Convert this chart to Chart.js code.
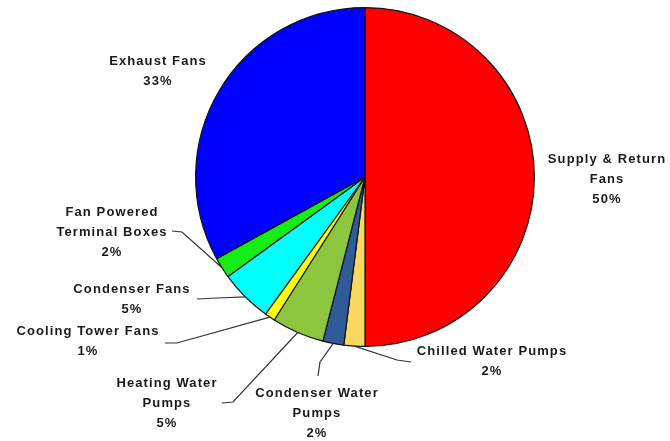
<!DOCTYPE html>
<html>
	<head>
		<title>Fan and Pump Energy Breakdown</title>
		<meta http-equiv="Content-Type" content="text/html; charset=UTF-8" />
		<script src="https://cdn.jsdelivr.net/npm/chart.js@4.4.1/dist/chart.umd.min.js"></script>
		<style>
			html, body { margin: 0; padding: 0; background: #ffffff; }
			#wrap { width: 670px; height: 441px; }
		</style>
	</head>
	<body>
		<div id="wrap"><canvas id="myChart" width="670" height="441"></canvas></div>

		<script>
			// slice data, clockwise from 12 o'clock
			var categories = ['Supply & Return Fans', 'Chilled Water Pumps', 'Condenser Water Pumps', 'Heating Water Pumps',
				'Cooling Tower Fans', 'Condenser Fans', 'Fan Powered Terminal Boxes', 'Exhaust Fans'];
			var shares = [50, 2, 2, 5, 1, 5, 2, 33];

			// how each name is broken over lines in the labels
			var labelLines = [
				['Supply & Return', 'Fans'],
				['Chilled Water Pumps'],
				['Condenser Water', 'Pumps'],
				['Heating Water', 'Pumps'],
				['Cooling Tower Fans'],
				['Condenser Fans'],
				['Fan Powered', 'Terminal Boxes'],
				['Exhaust Fans']
			];

			var sliceColors = ['#ff0000', '#f8d85e', '#2f5c98', '#8cc63e', '#ffff00', '#00ffff', '#14ee14', '#0000ff'];

			// label placement: text centre x, first line y, leader points (from slice edge outward)
			var labelLayout = [
				{ x: 607, y: 159, leader: [] },
				{ x: 492, y: 351, leader: [[397, 360], [411, 362]] },
				{ x: 317, y: 393, leader: [[320, 362], [318, 376]] },
				{ x: 167, y: 383, leader: [[233, 402], [222, 403]] },
				{ x: 88, y: 331, leader: [[177, 343], [165, 343]] },
				{ x: 132, y: 289, leader: [[217, 298], [197, 299]] },
				{ x: 112, y: 212, leader: [[182, 232], [172, 231]] },
				{ x: 158, y: 61, leader: [] }
			];

			// draws the callout text and leader lines
			var calloutPlugin = {
				id: 'callouts',
				afterDatasetsDraw: function(chart) {
					var ctx = chart.ctx;
					var arcs = chart.getDatasetMeta(0).data;
					ctx.save();
					ctx.strokeStyle = '#333333';
					ctx.lineWidth = 1.2;
					arcs.forEach(function(arc, i) {
						var lay = labelLayout[i];
						if (!lay.leader.length) return;
						var mid = (arc.startAngle + arc.endAngle) / 2;
						ctx.beginPath();
						ctx.moveTo(arc.x + Math.cos(mid) * arc.outerRadius, arc.y + Math.sin(mid) * arc.outerRadius);
						lay.leader.forEach(function(p) { ctx.lineTo(p[0], p[1]); });
						ctx.stroke();
					});

					ctx.fillStyle = '#1a1a1a';
					ctx.font = 'bold 13px "Liberation Sans", Arial, sans-serif';
					ctx.letterSpacing = '1.1px';
					ctx.textAlign = 'center';
					ctx.textBaseline = 'middle';
					categories.forEach(function(name, i) {
						var lay = labelLayout[i];
						var lines = labelLines[i].concat([shares[i] + '%']);
						lines.forEach(function(t, k) {
							ctx.fillText(t, lay.x, lay.y + k * 20);
						});
					});
					ctx.restore();
				}
			};

			var ctx = document.getElementById('myChart').getContext('2d');
			var chart = new Chart(ctx, {
				type: 'pie',
				data: {
					labels: categories,
					datasets: [{
						data: shares,
						backgroundColor: sliceColors,
						borderColor: '#111111',
						borderWidth: 1.2
					}]
				},
				options: {
					responsive: false,
					animation: false,
					layout: { padding: { left: 195, right: 135, top: 7, bottom: 94 } },
					plugins: {
						legend: { display: false },
						tooltip: { enabled: false }
					}
				},
				plugins: [calloutPlugin]
			});
		</script>
	</body>
</html>
